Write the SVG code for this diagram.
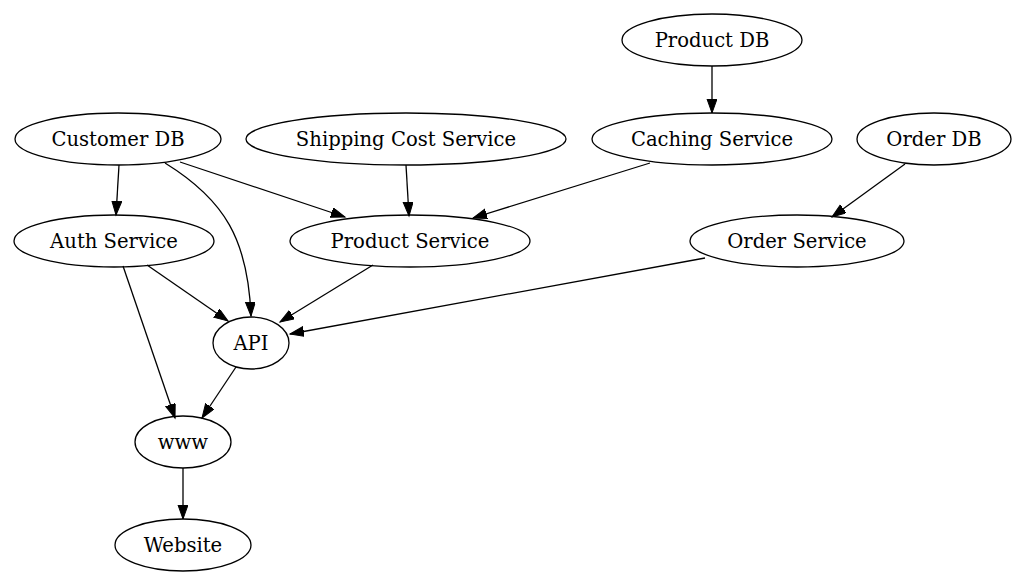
<svg xmlns="http://www.w3.org/2000/svg" width="1027" height="586" viewBox="0 0 1027 586">
<style>
.n ellipse{fill:none;stroke:#000;stroke-width:1.3}
.n text{font-family:"DejaVu Serif",serif;font-size:19.6px;text-anchor:middle;dominant-baseline:central;fill:#000}
.e path{fill:none;stroke:#000;stroke-width:1.3;marker-end:url(#ah)}
</style>
<defs>
<marker id="ah" markerUnits="userSpaceOnUse" markerWidth="16" markerHeight="12" refX="14" refY="5" orient="auto" viewBox="0 0 16 12">
<polygon points="0,0 14,5 0,10" fill="#000" stroke="#000"/>
</marker>
</defs>
<rect width="1027" height="586" fill="#fff"/>
<g id="connectors" class="e">
<path d="M712,66 L712,113"/>
<path d="M119,165 L116,215"/>
<path d="M180,162 L345,217"/>
<path d="M165,163 C225,200 248,240 251,316"/>
<path d="M406,165 L409,216"/>
<path d="M650,163 L473,218"/>
<path d="M905,164 L832,217"/>
<path d="M147,265 L228,321"/>
<path d="M123,266 L175,418"/>
<path d="M373,265 L280,322"/>
<path d="M705,258 L290,334"/>
<path d="M236,367 L202,418"/>
<path d="M183,468 L183,519"/>
</g>
<g id="product_db" class="n"><ellipse cx="712" cy="40" rx="90" ry="26"/><text x="712" y="40">Product DB</text></g>
<g id="customer_db" class="n"><ellipse cx="118" cy="139" rx="103" ry="26"/><text x="118" y="139">Customer DB</text></g>
<g id="shipping" class="n"><ellipse cx="406" cy="139" rx="160" ry="26"/><text x="406" y="139">Shipping Cost Service</text></g>
<g id="caching" class="n"><ellipse cx="712" cy="139" rx="120" ry="26"/><text x="712" y="139">Caching Service</text></g>
<g id="order_db" class="n"><ellipse cx="934" cy="139" rx="77" ry="26"/><text x="934" y="139">Order DB</text></g>
<g id="auth" class="n"><ellipse cx="114" cy="241" rx="100" ry="26"/><text x="114" y="241">Auth Service</text></g>
<g id="product_service" class="n"><ellipse cx="410" cy="241" rx="120" ry="26"/><text x="410" y="241">Product Service</text></g>
<g id="order_service" class="n"><ellipse cx="797" cy="241" rx="107" ry="26"/><text x="797" y="241">Order Service</text></g>
<g id="api" class="n"><ellipse cx="251" cy="343" rx="38" ry="26"/><text x="251" y="343">API</text></g>
<g id="www" class="n"><ellipse cx="183" cy="442" rx="48" ry="26"/><text x="183" y="442">www</text></g>
<g id="website" class="n"><ellipse cx="183" cy="545" rx="68" ry="26"/><text x="183" y="545">Website</text></g>
</svg>
